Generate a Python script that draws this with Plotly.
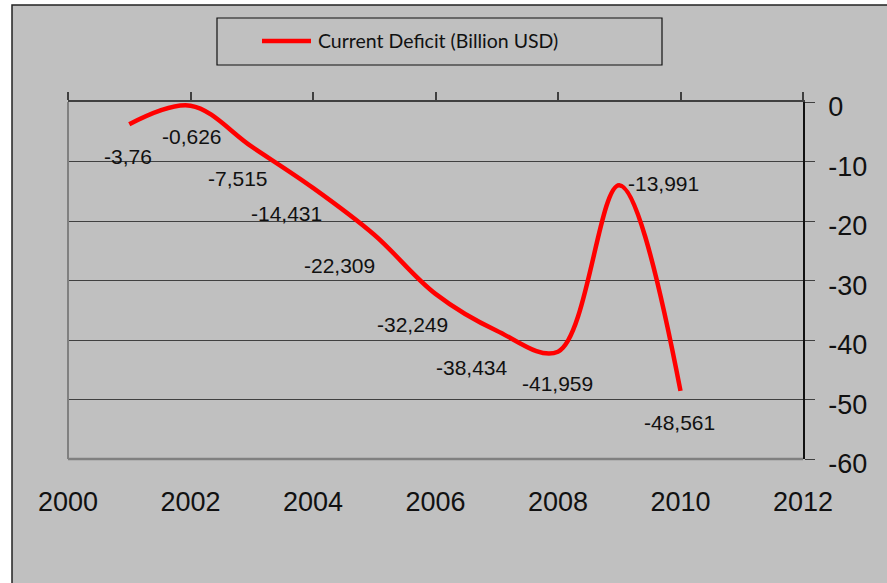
import plotly.graph_objects as go

# Current account deficit, billion USD
years = [2001, 2002, 2003, 2004, 2005, 2006, 2007, 2008, 2009, 2010]
deficit = [-3.76, -0.626, -7.515, -14.431, -22.309, -32.249, -38.434, -41.959, -13.991, -48.561]
series_name = "Current Deficit (Billion USD)"
x_ticks = [2000, 2002, 2004, 2006, 2008, 2010, 2012]
y_ticks = [0, -10, -20, -30, -40, -50, -60]

# pixel offsets of each value label relative to its point (dx right, dy up)
label_dx = [-1, 1, -14, -27, -35, -23, -25, -1, 44, -1]
label_dy = [-32, -31, -32, -26, -31, -31, -37, -32, 2, -32]

W, H = 887, 583
ML, MR, MT, MB = 68, 84, 102, 124
PW, PH = W - ML - MR, H - MT - MB


def px(x):
    return (x - ML) / PW


def py(y):
    return (H - MB - y) / PH


BG = "#c0c0c0"
GRID = "#404040"
FONT = "Liberation Sans, Arial, sans-serif"

fig = go.Figure()
fig.add_trace(go.Scatter(
    x=years, y=deficit, mode="lines", name=series_name,
    line=dict(color="#ff0000", width=4.5, shape="spline", smoothing=1),
    xaxis="x", yaxis="y", showlegend=False, hoverinfo="x+y",
))
# carrier trace so the bottom label axis is drawn
fig.add_trace(go.Scatter(
    x=years, y=deficit, mode="lines", line=dict(width=0, color="rgba(0,0,0,0)"),
    xaxis="x2", yaxis="y", showlegend=False, hoverinfo="skip",
))

annotations = []
for yr, v, dx, dy in zip(years, deficit, label_dx, label_dy):
    annotations.append(dict(
        x=yr, y=v, xref="x", yref="y", text=str(v).replace(".", ","),
        showarrow=False, xshift=dx, yshift=dy,
        font=dict(family=FONT, size=21, color="#111111"),
    ))

# legend box
annotations.append(dict(
    x=px(316), y=py(41), xref="paper", yref="paper", xanchor="left", yanchor="middle",
    text=series_name, showarrow=False,
    font=dict(family="Lato, Open Sans, sans-serif", size=19.5, color="#111111"),
))

shapes = [
    # outer chart frame
    dict(type="rect", xref="paper", yref="paper", x0=px(12), x1=px(905), y0=py(600), y1=py(5),
         fillcolor=BG, line=dict(color="#222222", width=1.5), layer="below"),
    # legend frame and sample line
    dict(type="rect", xref="paper", yref="paper", x0=px(217), x1=px(662), y0=py(65), y1=py(18),
         fillcolor=BG, line=dict(color="#111111", width=1.2), layer="above"),
    dict(type="line", xref="paper", yref="paper", x0=px(262), x1=px(311), y0=py(41), y1=py(41),
         line=dict(color="#ff0000", width=4.5), layer="above"),
    # plot-area border (left and bottom)
    dict(type="line", xref="paper", yref="paper", x0=0, x1=0, y0=0, y1=1,
         line=dict(color="#808080", width=2), layer="above"),
    dict(type="line", xref="paper", yref="paper", x0=0, x1=1, y0=0, y1=0,
         line=dict(color="#808080", width=2.5), layer="above"),
]

fig.update_layout(
    width=W, height=H, autosize=False,
    margin=dict(l=ML, r=MR, t=MT, b=MB, pad=0),
    paper_bgcolor="white", plot_bgcolor="rgba(0,0,0,0)",
    showlegend=False,
    xaxis=dict(
        range=[2000, 2012], side="top", anchor="y",
        showline=True, linecolor=GRID, linewidth=1.5,
        ticks="outside", ticklen=8, tickwidth=1.5, tickcolor=GRID,
        tickvals=x_ticks, showticklabels=False,
        showgrid=False, zeroline=False, fixedrange=True,
    ),
    xaxis2=dict(
        range=[2000, 2012], side="bottom", anchor="y", overlaying="x",
        showline=False, ticks="", tickvals=x_ticks,
        showgrid=False, zeroline=False, ticklabelstandoff=24,
        tickfont=dict(family=FONT, size=27, color="#111111"),
    ),
    yaxis=dict(
        range=[-60, 0], side="right", anchor="x",
        showline=True, linecolor="#111111", linewidth=1.5,
        ticks="outside", ticklen=10, tickwidth=1.2, tickcolor=GRID,
        tickvals=y_ticks, ticktext=[str(v) for v in y_ticks],
        showgrid=True, gridcolor=GRID, gridwidth=1.2,
        zeroline=False, ticklabelstandoff=8, ticklabelshift=5,
        tickfont=dict(family=FONT, size=27, color="#111111"),
    ),
    annotations=annotations,
    shapes=shapes,
)

fig.write_html("out.html")
